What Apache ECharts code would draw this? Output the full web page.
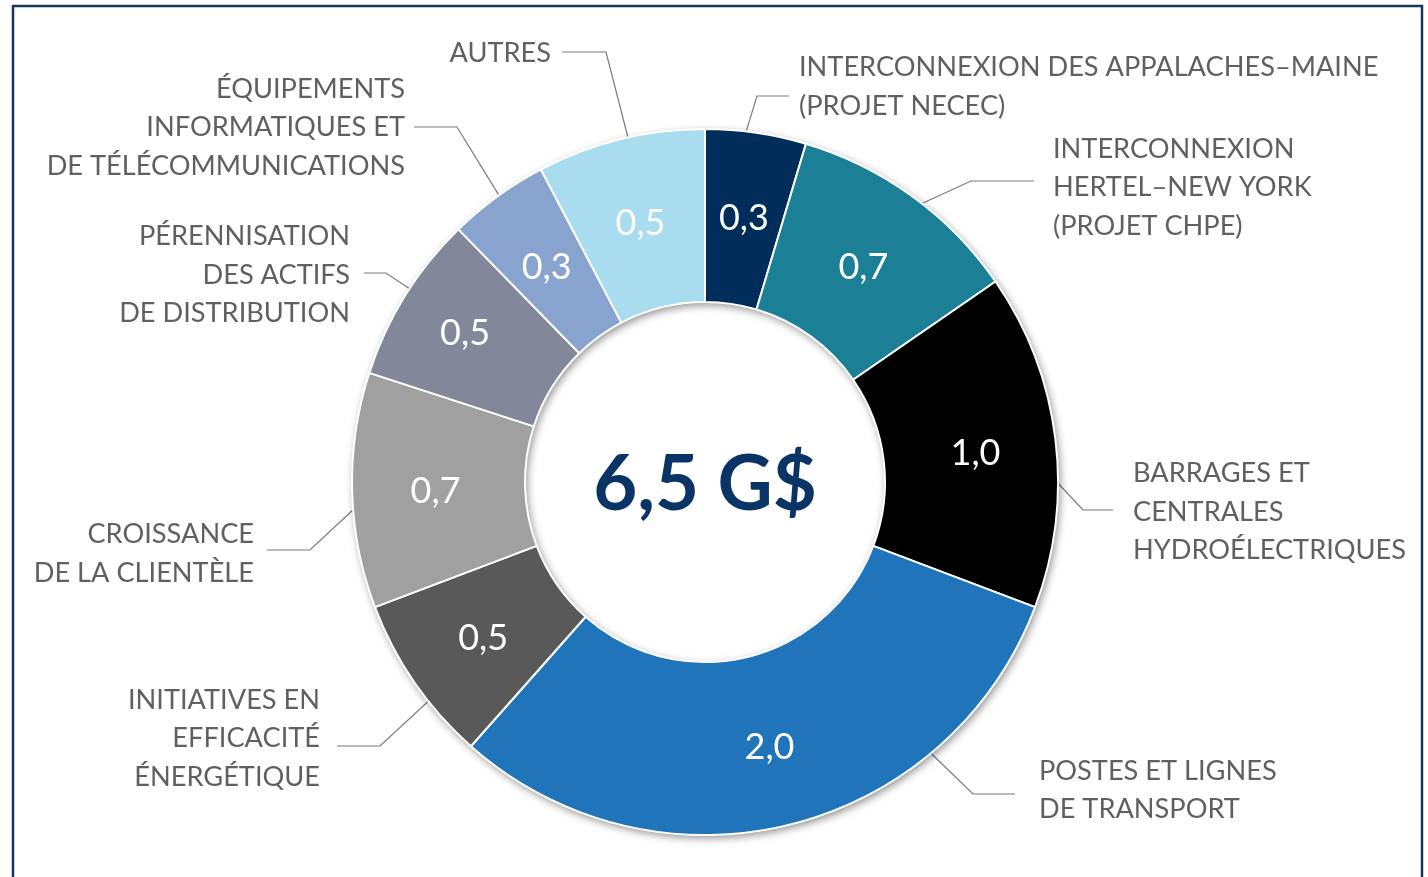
<!DOCTYPE html>
<html><head><meta charset="utf-8">
<script src="https://cdn.jsdelivr.net/npm/echarts@6/dist/echarts.min.js"></script>
<style>html,body{margin:0;padding:0;background:#fff}#c{width:1428px;height:877px}</style>
</head><body><div id="c"></div>
<script>
// ---- data ----
const categories = [
  'INTERCONNEXION DES APPALACHES–MAINE\n(PROJET NECEC)',
  'INTERCONNEXION\nHERTEL–NEW YORK\n(PROJET CHPE)',
  'BARRAGES ET\nCENTRALES\nHYDROÉLECTRIQUES',
  'POSTES ET LIGNES\nDE TRANSPORT',
  'INITIATIVES EN\nEFFICACITÉ\nÉNERGÉTIQUE',
  'CROISSANCE\nDE LA CLIENTÈLE',
  'PÉRENNISATION\nDES ACTIFS\nDE DISTRIBUTION',
  'ÉQUIPEMENTS\nINFORMATIQUES ET\nDE TÉLÉCOMMUNICATIONS',
  'AUTRES'
];
const values = [0.3, 0.7, 1.0, 2.0, 0.5, 0.7, 0.5, 0.3, 0.5];
const totalLabel = '6,5 G$';

// ---- styles ----
const colors = ['#002D5A', '#1B7F96', '#000000', '#1F74BA', '#595959', '#A0A0A0', '#828799', '#88A3CD', '#A8DCEE'];
const CX = 705, CY = 482, R0 = 180, R1 = 353;
// inner value label nudges (px)
const VALUE_OFFSETS = [[0, 3], [0, 3], [3, 4], [0, 4], [0, 3], [0, 3], [-11, -6], [0, 3], [0, 3]];
// label layout: text anchor, alignment, leader start angle (deg from top, clockwise), elbow and end points
const LAYOUT = [
  {x: 799,  y: 86.5,  align: 'left',  angle: 6.7,   elbow: [757, 96],  end: [789, 96]},
  {x: 1053, y: 187.5, align: 'left',  angle: 37.9,  elbow: [971, 181], end: [1034, 181]},
  {x: 1133, y: 512,   align: 'left',  angle: 90.2,  elbow: [1083, 510], end: [1113, 510]},
  {x: 1039, y: 790,   align: 'left',  angle: 140.2, elbow: [973, 794], end: [1015, 794]},
  {x: 320,  y: 738.5, align: 'right', angle: 231.6, elbow: [380, 746], end: [337, 746]},
  {x: 254,  y: 553.5, align: 'right', angle: 265.5, elbow: [310, 550], end: [267, 550]},
  {x: 350,  y: 275,   align: 'right', angle: 303.2, elbow: [386, 273], end: [364, 273]},
  {x: 405,  y: 127.5, align: 'right', angle: 324.3, elbow: [457, 127], end: [414, 127]},
  {x: 551,  y: 53,    align: 'right', angle: 347.4, elbow: [606, 52],  end: [562, 52]}
];

const FONT = 'Lato, "Open Sans", sans-serif';
const data = categories.map((n, i) => ({name: n, value: values[i], itemStyle: {color: colors[i]},
  label: {offset: VALUE_OFFSETS[i]}}));
const total = values.reduce((a, b) => a + b, 0);

const chart = echarts.init(document.getElementById('c'), null, {renderer: 'canvas'});
chart.setOption({
  animation: false,
  backgroundColor: '#ffffff',
  graphic: [
    {type: 'rect', z: 100, shape: {x: 13, y: 6, width: 1409, height: 900},
     style: {fill: 'none', stroke: '#17375E', lineWidth: 2.5}},
    {type: 'text', z: 100, x: CX, y: 485,
     style: {text: totalLabel, fill: '#0A3466', fontSize: 76, fontWeight: 'bold', fontFamily: FONT,
             align: 'center', verticalAlign: 'middle'}}
  ],
  series: [
    { // soft shadow behind the ring
      type: 'pie', silent: true, center: [CX, CY], radius: [R0, R1],
      data: [{value: total, name: ''}],
      label: {show: false}, labelLine: {show: false},
      itemStyle: {color: '#ffffff', shadowBlur: 8, shadowColor: 'rgba(0,0,0,0.45)', shadowOffsetX: 2, shadowOffsetY: 3},
      emphasis: {disabled: true}
    },
    { // slices with inner value labels
      type: 'pie', center: [CX, CY], radius: [R0, R1], startAngle: 90, clockwise: true,
      avoidLabelOverlap: false, minShowLabelAngle: 0,
      data: data,
      itemStyle: {borderColor: '#ffffff', borderWidth: 2},
      label: {show: true, position: 'inside', color: '#ffffff', fontSize: 36, fontFamily: FONT,
              formatter: p => p.value.toFixed(1).replace('.', ',')},
      labelLine: {show: false},
      emphasis: {disabled: true}
    },
    { // transparent twin for outside labels with leader lines
      type: 'pie', silent: true, center: [CX, CY], radius: [R0, R1], startAngle: 90, clockwise: true,
      avoidLabelOverlap: false, minShowLabelAngle: 0,
      data: data.map(d => ({name: d.name, value: d.value})),
      itemStyle: {color: 'rgba(0,0,0,0)', borderWidth: 0},
      label: {show: true, position: 'outside', color: '#606060', fontSize: 27.2, lineHeight: 38.5, fontFamily: FONT,
              formatter: p => p.name},
      labelLine: {show: true, lineStyle: {color: '#7A7A7A', width: 1.2}},
      emphasis: {disabled: true},
      labelLayout: function (params) {
        const L = LAYOUT[params.dataIndex];
        const a = L.angle * Math.PI / 180;
        const sx = CX + R1 * Math.sin(a), sy = CY - R1 * Math.cos(a);
        return {x: L.x, y: L.y, align: L.align, verticalAlign: 'middle',
                labelLinePoints: [[sx, sy], L.elbow.slice(), L.end.slice()]};
      }
    }
  ]
});
</script></body></html>
